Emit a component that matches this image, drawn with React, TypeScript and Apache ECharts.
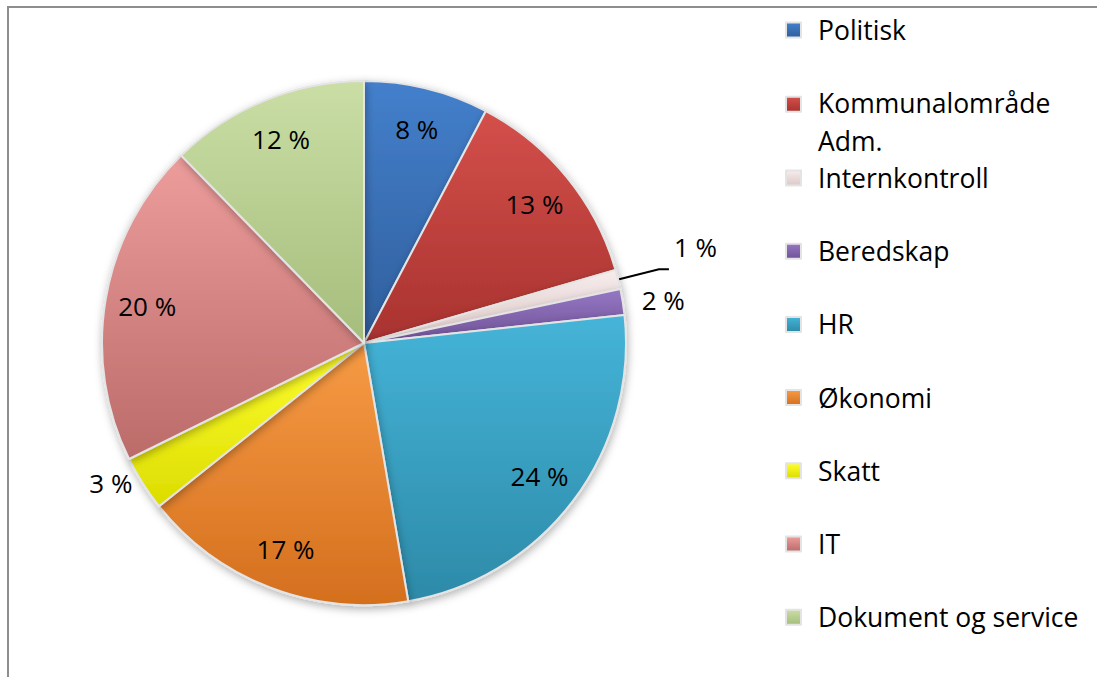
import React, { useEffect, useRef } from "react";
import * as echarts from "echarts";

const categories = [
  "Politisk",
  "Kommunalområde Adm.",
  "Internkontroll",
  "Beredskap",
  "HR",
  "Økonomi",
  "Skatt",
  "IT",
  "Dokument og service",
];
const values = [7.7, 12.8, 1.2, 1.6, 24.0, 17.0, 3.4, 20.0, 12.3];

const topColors = ["#4480cc", "#d4504b", "#f7ecec", "#9577c4", "#45b4d8", "#f79b45", "#ffff30", "#ec9d9c", "#cadea5"];
const bottomColors = ["#2f5e9c", "#a8322f", "#dcc8c8", "#6f5296", "#2d8aa8", "#d46f1e", "#dcdc00", "#bb6b69", "#a5bd7c"];

const FONT = "'Open Sans', 'DejaVu Sans', sans-serif";
const LEGEND_FS = 26.5;

// label configuration for the thin slices, whose labels sit outside the pie
const outsideCfg: Record<number, any> = {
  2: { line: true, length: 42, length2: 10, dy: -22 },
  3: { line: false, length: 10, length2: 4, dy: 0 },
  6: { line: false, length: 4, length2: 2, dy: -3 },
};

const fmt = (p: any) => Math.round(p.percent) + " %";

export default function App() {
  const ref = useRef<HTMLDivElement>(null);
  useEffect(() => {
    if (!ref.current) return;
    const chart = echarts.init(ref.current, undefined, { renderer: "svg" });
    const grad = (i: number) =>
      new echarts.graphic.LinearGradient(0, 0, 0, 1, [
        { offset: 0, color: topColors[i] },
        { offset: 1, color: bottomColors[i] },
      ]);

    const mainData = categories.map((name, i) => {
      const c = outsideCfg[i];
      return {
        name,
        value: values[i],
        itemStyle: { color: grad(i) },
        label: c
          ? { show: true, position: "outside", formatter: fmt, fontSize: 26, color: "#000", fontFamily: FONT }
          : { show: false },
        labelLine: c
          ? { show: c.line, length: c.length, length2: c.length2, smooth: false, lineStyle: { color: "#000", width: 2 } }
          : { show: false },
      };
    });

    const labelData = categories.map((name, i) => ({
      name,
      value: values[i],
      label: outsideCfg[i] ? { show: false } : undefined,
    }));

    const legendText = {
      fontFamily: FONT,
      fontSize: LEGEND_FS,
      color: "#000",
      lineHeight: 37,
      padding: [0, 0, 0, 12],
      rich: {
        b: {
          fontFamily: FONT,
          fontSize: LEGEND_FS,
          color: "#000",
          lineHeight: 2,
          verticalAlign: "top",
          padding: [6, 0, 0, 0],
        },
      },
    };
    const legendBase = {
      orient: "vertical",
      left: 785,
      padding: 0,
      itemWidth: 15,
      itemHeight: 15,
      itemGap: 36.2,
      icon: "rect",
      selectedMode: false,
      formatter: (n: string) => n.replace(" Adm.", "\n{b|Adm.}"),
      textStyle: legendText,
    };

    chart.setOption({
      animation: false,
      backgroundColor: "#fff",
      graphic: [
        {
          type: "rect",
          z: -10,
          shape: { x: 8, y: 7, width: 1200, height: 800 },
          style: { fill: "none", stroke: "#8e8e8e", lineWidth: 2 },
          silent: true,
        },
      ],
      legend: [
        { ...legendBase, top: 11.5, data: categories.slice(0, 2) },
        { ...legendBase, top: 159.5, data: categories.slice(2) },
      ],
      series: [
        {
          type: "pie",
          center: [364, 343],
          radius: [0, 262],
          startAngle: 90,
          clockwise: true,
          avoidLabelOverlap: false,
          silent: true,
          itemStyle: {
            borderColor: "#e4e4e4",
            borderWidth: 2,
            shadowBlur: 8,
            shadowColor: "rgba(0,0,0,0.3)",
            shadowOffsetX: 1,
            shadowOffsetY: 3,
          },
          labelLayout: (p: any) => {
            const c = outsideCfg[p.dataIndex];
            return c && c.dy ? { dy: c.dy } : {};
          },
          data: mainData,
        },
        {
          type: "pie",
          center: [364, 343],
          radius: [0, 434],
          startAngle: 90,
          clockwise: true,
          silent: true,
          avoidLabelOverlap: false,
          itemStyle: { color: "rgba(0,0,0,0)", borderWidth: 0 },
          label: {
            show: true,
            position: "inside",
            formatter: fmt,
            fontSize: 26,
            color: "#000",
            fontFamily: FONT,
          },
          labelLine: { show: false },
          data: labelData,
        },
      ],
    });
    return () => chart.dispose();
  }, []);
  return <div ref={ref} style={{ position: "fixed", left: 0, top: 0, width: 1097, height: 677 }} />;
}
